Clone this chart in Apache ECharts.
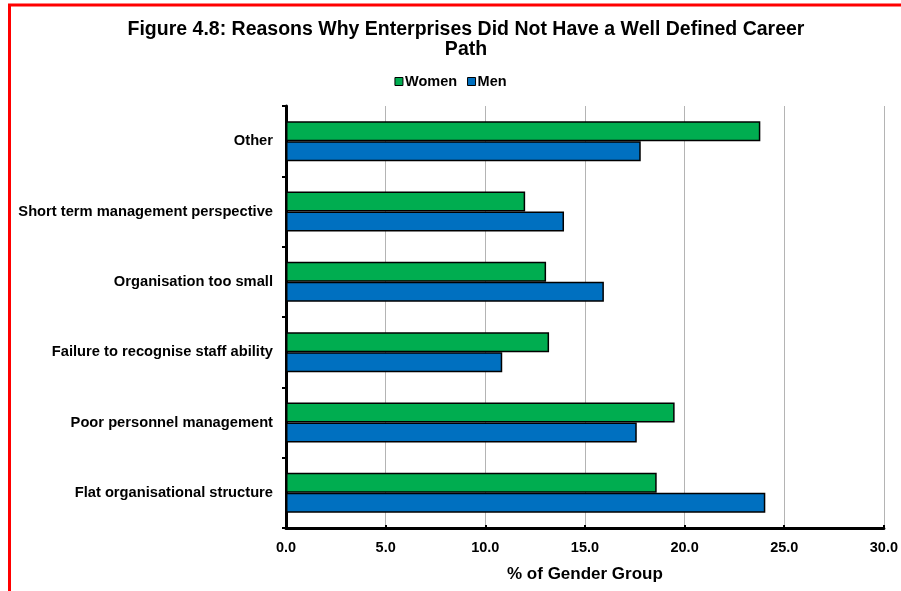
<!DOCTYPE html>
<html><head><meta charset="utf-8">
<script src="https://cdn.jsdelivr.net/npm/echarts@6/dist/echarts.min.js"></script>
<style>html,body{margin:0;padding:0;background:#fff}#c{width:901px;height:591px}</style>
</head><body><div id="c"></div>
<script>
const categories = ['Flat organisational structure','Poor personnel management','Failure to recognise staff ability','Organisation too small','Short term management perspective','Other'];
const women = [18.6, 19.5, 13.2, 13.05, 12.0, 23.8];
const men = [24.05, 17.6, 10.85, 15.95, 13.95, 17.8];
const seriesNames = ['Women','Men'];
const xTicks = {min:0, max:30, interval:5};

const chart = echarts.init(document.getElementById('c'));
const F = 'Liberation Sans, Arial, sans-serif';
chart.setOption({
  animation:false,
  title:{text:'Figure 4.8: Reasons Why Enterprises Did Not Have a Well Defined Career\nPath', left:461, top:15, textAlign:'center',
    textStyle:{fontFamily:F, fontWeight:'bold', fontSize:19.5, color:'#000', lineHeight:20}},
  legend:{data:seriesNames, top:69, left:'center', itemWidth:8, itemHeight:8, itemGap:10, icon:'rect',
    itemStyle:{borderColor:'#000', borderWidth:1},
    textStyle:{fontFamily:F, fontWeight:'bold', fontSize:14.5, color:'#000', padding:[0,0,0,-3]}},
  grid:{left:286, right:17, top:106, bottom:63},
  xAxis:{type:'value', min:xTicks.min, max:xTicks.max, interval:xTicks.interval,
    name:'% of Gender Group', nameLocation:'middle', nameGap:38,
    nameTextStyle:{fontFamily:F, fontWeight:'bold', fontSize:17, color:'#000'},
    axisLine:{show:true, lineStyle:{color:'#000', width:3}},
    axisTick:{show:true, inside:true, length:3, lineStyle:{color:'#000', width:2}},
    axisLabel:{fontFamily:F, fontWeight:'bold', fontSize:14.5, color:'#000', margin:12, formatter:v=>v.toFixed(1)},
    splitLine:{show:true, lineStyle:{color:'#b4b4b4', width:1}}},
  yAxis:{type:'category', data:categories,
    axisLine:{show:true, lineStyle:{color:'#000', width:3}},
    axisTick:{show:true, length:4, lineStyle:{color:'#000', width:2}},
    axisLabel:{fontFamily:F, fontWeight:'bold', fontSize:14.7, color:'#000', margin:13}},
  series:[
    {name:'Women', type:'bar', data:women, barWidth:20, barGap:'0%',
      itemStyle:{color:'#00ad50', borderColor:'#000', borderWidth:1.5}},
    {name:'Men', type:'bar', data:men, barWidth:20, barGap:'0%',
      itemStyle:{color:'#0070c0', borderColor:'#000', borderWidth:1.5}}
  ],
  graphic:[
    {type:'line', shape:{x1:8, y1:5, x2:901, y2:5}, style:{stroke:'#ff0000', lineWidth:3}},
    {type:'line', shape:{x1:9.5, y1:4, x2:9.5, y2:591}, style:{stroke:'#ff0000', lineWidth:3}}
  ]
});
</script></body></html>
